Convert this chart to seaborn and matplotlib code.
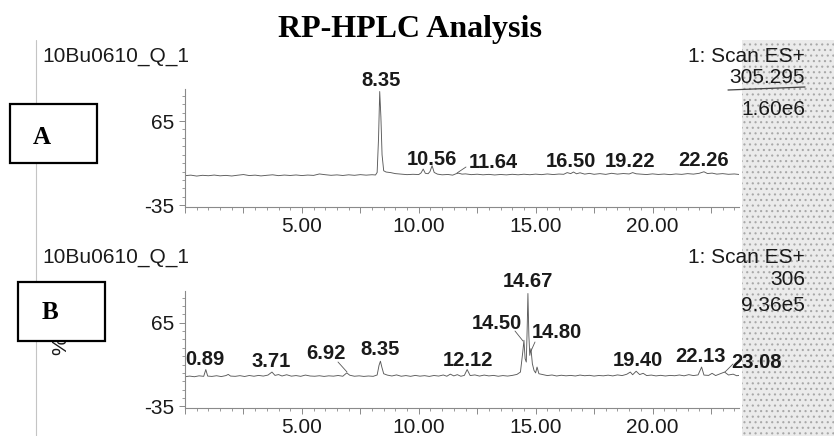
import numpy as np
import pandas as pd
import matplotlib
matplotlib.use("Agg")
import matplotlib.pyplot as plt
from matplotlib.patches import Rectangle
from matplotlib.lines import Line2D
from matplotlib.ticker import FixedLocator, MultipleLocator, FuncFormatter
import seaborn as sns

# ---------------- data ----------------
title = "RP-HPLC Analysis"
sample_name = "10Bu0610_Q_1"
scan_mode = "1: Scan ES+"

a_mass, a_tic = "305.295", "1.60e6"
b_mass, b_tic = "306", "9.36e5"

a_rt = [0.00, 0.25, 0.50, 0.75, 1.00, 1.25, 1.50, 1.75, 2.00, 2.25, 2.50, 2.75,
        3.00, 3.25, 3.50, 3.75, 4.00, 4.25, 4.50, 4.75, 5.00, 5.25, 5.50, 5.75,
        6.00, 6.25, 6.50, 6.75, 7.00, 7.25, 7.50, 7.75, 8.00, 8.15, 8.22, 8.28,
        8.33, 8.38, 8.43, 8.50, 8.60, 8.80, 9.00, 9.25, 9.50, 9.75, 10.00, 10.10,
        10.19, 10.28, 10.40, 10.48, 10.57, 10.66, 10.80, 11.00, 11.25, 11.45, 11.60,
        11.70, 11.85, 12.00, 12.25, 12.50, 12.75, 13.00, 13.25, 13.50, 13.75, 14.00,
        14.25, 14.50, 14.75, 15.00, 15.25, 15.50, 15.75, 16.00, 16.20, 16.35, 16.50,
        16.62, 16.75, 16.90, 17.10, 17.30, 17.50, 17.75, 18.00, 18.25, 18.50, 18.75,
        19.00, 19.15, 19.30, 19.50, 19.75, 20.00, 20.25, 20.50, 20.75, 21.00, 21.25,
        21.50, 21.75, 22.00, 22.20, 22.35, 22.55, 22.75, 23.00, 23.25, 23.50, 23.70]
a_int = [0.2, 0.8, -0.3, 0.6, 0.1, 0.9, 0.0, 0.5, -0.2, 0.7, 1.5, 0.3,
         0.8, -0.1, 0.6, 1.2, 0.2, 0.9, 0.4, 1.0, 0.3, 0.9, 0.5, 2.2,
         1.3, 0.6, 1.1, 0.4, 1.2, 0.6, 1.4, 0.8, 1.3, 1.0, 4.0, 45.0,
         100.0, 70.0, 25.0, 6.0, 4.5, 3.8, 2.6, 2.0, 1.4, 1.8, 1.5, 3.5,
         8.0, 3.0, 2.5, 5.0, 12.0, 4.0, 2.0, 1.2, 1.6, 0.8, 2.5,
         3.2, 2.0, 2.3, 1.4, 1.9, 1.2, 1.7, 1.0, 1.6, 1.1, 1.8,
         1.2, 1.9, 1.3, 2.0, 1.4, 2.2, 1.5, 2.1, 1.8, 3.8, 2.6,
         4.5, 2.4, 3.6, 2.0, 2.9, 1.8, 2.6, 1.7, 3.0, 2.0, 2.7,
         2.2, 3.8, 2.4, 2.0, 1.5, 2.3, 1.6, 2.1, 1.4, 2.2, 1.7,
         2.6, 2.0, 3.0, 4.8, 2.7, 3.2, 2.0, 2.6, 1.8, 2.2, 1.6]

b_rt = [0.00, 0.20, 0.40, 0.60, 0.80, 0.89, 0.97, 1.15, 1.35, 1.55, 1.75, 1.85,
        1.95, 2.15, 2.35, 2.55, 2.75, 2.95, 3.15, 3.35, 3.55, 3.72, 3.85, 4.00,
        4.15, 4.35, 4.55, 4.75, 4.95, 5.15, 5.35, 5.55, 5.75, 5.95, 6.15, 6.35,
        6.55, 6.75, 6.92, 7.05, 7.25, 7.45, 7.65, 7.85, 8.05, 8.22, 8.30, 8.36,
        8.42, 8.50, 8.65, 8.85, 9.05, 9.25, 9.45, 9.65, 9.85, 10.05, 10.25, 10.45,
        10.65, 10.85, 11.05, 11.20, 11.35, 11.50, 11.65, 11.80, 11.95, 12.07, 12.20,
        12.40, 12.60, 12.80, 13.00, 13.20, 13.40, 13.60, 13.80, 14.00, 14.20, 14.35,
        14.45, 14.50, 14.55, 14.60, 14.64, 14.67, 14.71, 14.75, 14.80, 14.86, 14.93,
        15.00, 15.06, 15.14, 15.30, 15.50, 15.70, 15.90, 16.10, 16.30, 16.50, 16.70,
        16.90, 17.10, 17.30, 17.50, 17.70, 17.90, 18.10, 18.30, 18.50, 18.70, 18.90,
        19.05, 19.15, 19.30, 19.45, 19.60, 19.75, 19.95, 20.15, 20.35, 20.55, 20.75,
        20.95, 21.15, 21.35, 21.55, 21.75, 21.95, 22.10, 22.20, 22.40, 22.55, 22.70,
        22.90, 23.08, 23.25, 23.45, 23.60, 23.70]
b_int = [0.5, 1.2, 0.4, 1.5, 0.9, 9.0, 1.2, 0.8, 1.6, 0.6, 1.8, 3.2,
         1.2, 0.9, 1.7, 0.7, 1.9, 1.0, 2.0, 1.2, 2.4, 6.0, 2.0, 3.0,
         1.3, 2.8, 1.1, 1.8, 0.9, 2.4, 1.3, 1.0, 1.6, 0.8, 1.5, 1.1,
         1.9, 1.0, 5.0, 2.2, 1.0, 1.5, 0.8, 1.3, 0.9, 2.5, 14.0, 19.0,
         12.0, 4.0, 2.4, 1.3, 2.6, 1.0, 1.8, 0.9, 2.0, 1.1, 1.7, 0.8,
         1.9, 1.2, 2.5, 1.0, 3.5, 1.4, 2.9, 1.0, 2.0, 9.0, 1.8,
         2.6, 1.2, 2.4, 1.4, 2.0, 1.0, 1.8, 1.2, 2.0, 3.2, 6.0,
         30.0, 44.0, 22.0, 18.0, 60.0, 100.0, 50.0, 26.0, 34.0, 16.0, 8.0,
         5.0, 12.0, 4.0, 3.0, 1.8, 2.5, 1.3, 2.2, 1.5, 2.0, 1.3,
         2.4, 1.6, 2.1, 1.2, 1.9, 1.5, 2.3, 1.4, 2.6, 1.8, 3.4,
         6.0, 2.8, 7.0, 3.0, 4.5, 1.8, 2.4, 1.4, 2.1, 1.3, 2.0,
         1.6, 2.5, 1.5, 2.9, 1.8, 2.6, 12.0, 2.4, 2.0, 4.5, 1.8,
         4.0, 6.0, 2.5, 3.5, 1.6, 2.0]

a_peaks = ["8.35", "10.56", "11.64", "16.50", "19.22", "22.26"]
a_peak_rt = [8.35, 10.56, 11.64, 16.50, 19.22, 22.26]
b_peaks = ["0.89", "3.71", "6.92", "8.35", "12.12", "14.50", "14.67", "14.80",
           "19.40", "22.13", "23.08"]
b_peak_rt = [0.89, 3.71, 6.92, 8.35, 12.12, 14.50, 14.67, 14.80, 19.40, 22.13, 23.08]

y_tick_vals = [-35, 65]
x_tick_labels = ["5.00", "10.00", "15.00", "20.00"]

# ---------------- layout / style ----------------
W, H = 834, 436
sns.set_theme(style="ticks")
plt.rcParams["font.family"] = ["Liberation Sans", "DejaVu Sans"]
plt.rcParams["axes.unicode_minus"] = False
plt.rcParams["hatch.linewidth"] = 0.8

fig = plt.figure(figsize=(W / 100, H / 100), dpi=100)
fig.patch.set_facecolor("white")


def fx(px):
    return px / W


def fy(py):
    return 1 - py / H


TRACE = "#5a5a5a"
AXC = "#8a8a8a"
TXT = "#1a1a1a"

# label positions in image pixels (x centre, baseline y), and leader lines
a_label_pos = {"8.35": (381, 86), "10.56": (432, 165), "11.64": (493, 168),
               "16.50": (571, 167), "19.22": (630, 167), "22.26": (704, 166)}
a_leaders = {"11.64": ((466, 167), (457, 173))}
b_label_pos = {"0.89": (205, 365), "3.71": (271, 367), "6.92": (326, 359),
               "8.35": (380, 355), "12.12": (468, 366), "14.50": (497, 329),
               "14.67": (528, 287), "14.80": (557, 338), "19.40": (638, 366),
               "22.13": (701, 362), "23.08": (757, 368)}
b_leaders = {"6.92": ((338, 362), (347, 372)), "14.50": ((515, 331), (523, 341)),
             "14.80": ((535, 342), (531, 351)), "23.08": ((733, 364), (725, 372))}


def make_panel(top_px, bottom_px, rt, inten):
    ax = fig.add_axes([fx(185), fy(bottom_px), fx(739) - fx(185),
                       (bottom_px - top_px) / H])
    df = pd.DataFrame({"rt": rt, "intensity": inten})
    sns.lineplot(data=df, x="rt", y="intensity", ax=ax, color=TRACE,
                 linewidth=0.65, estimator=None, sort=False)
    ax.set_xlim(0, 23.7)
    ax.set_ylim(-37, 103)
    ax.set_xlabel("")
    ax.set_ylabel("")
    ax.patch.set_alpha(0)
    for s in ["top", "right"]:
        ax.spines[s].set_visible(False)
    for s in ["left", "bottom"]:
        ax.spines[s].set_color(AXC)
        ax.spines[s].set_linewidth(0.8)
    ax.yaxis.set_major_locator(FixedLocator(y_tick_vals))
    ax.set_yticklabels([str(v) for v in y_tick_vals])
    ax.yaxis.set_minor_locator(FixedLocator(list(range(-35, 100, 10))))
    ax.xaxis.set_major_locator(MultipleLocator(2.5))
    lab = {5.0: x_tick_labels[0], 10.0: x_tick_labels[1],
           15.0: x_tick_labels[2], 20.0: x_tick_labels[3]}
    ax.xaxis.set_major_formatter(FuncFormatter(lambda v, p: lab.get(round(v, 2), "")))
    ax.xaxis.set_minor_locator(MultipleLocator(0.5))
    ax.tick_params(axis="both", which="major", length=4.5, width=0.7, color=AXC,
                   labelsize=15, labelcolor=TXT, direction="out")
    ax.tick_params(axis="both", which="minor", length=2.5, width=0.6, color=AXC,
                   direction="out")
    ax.tick_params(axis="x", which="major", pad=3)
    ax.tick_params(axis="y", which="major", pad=3)
    return ax


axA = make_panel(89, 207, a_rt, a_int)
axB = make_panel(291, 408, b_rt, b_int)


def peak_labels(labels, rts, pos, leaders):
    for lbl in labels:
        px, py = pos[lbl]
        fig.text(fx(px), fy(py), lbl, ha="center", va="baseline", fontsize=14.5,
                 fontweight="bold", color=TXT)
        if lbl in leaders:
            (x0, y0), (x1, y1) = leaders[lbl]
            fig.add_artist(Line2D([fx(x0), fx(x1)], [fy(y0), fy(y1)],
                                  transform=fig.transFigure, color="#555555", lw=0.6))


peak_labels(a_peaks, a_peak_rt, a_label_pos, a_leaders)
peak_labels(b_peaks, b_peak_rt, b_label_pos, b_leaders)

# scanned noisy strip on the right
fig.add_artist(Rectangle((fx(742), 0), fx(834) - fx(742), fy(40), transform=fig.transFigure,
                         facecolor="#ebebeb", edgecolor="#a8a8a8", hatch="...",
                         linewidth=0, zorder=0))

# left scanner line
fig.add_artist(Line2D([fx(36), fx(36)], [fy(40), 0], transform=fig.transFigure,
                      color="#c4c4c4", lw=0.8))

# titles / headers
fig.text(fx(410), fy(37), title, ha="center", va="baseline", fontsize=23,
         fontweight="bold", family="Liberation Serif", color="black")
for base in (62, 263):
    fig.text(fx(42), fy(base), sample_name, ha="left", va="baseline",
             fontsize=15, color=TXT)
    fig.text(fx(805), fy(base), scan_mode, ha="right", va="baseline",
             fontsize=15, color=TXT, zorder=5)
fig.text(fx(805), fy(83), a_mass, ha="right", va="baseline", fontsize=15, color=TXT, zorder=5)
fig.text(fx(805), fy(115), a_tic, ha="right", va="baseline", fontsize=15, color=TXT, zorder=5)
fig.text(fx(805), fy(285), b_mass, ha="right", va="baseline", fontsize=15, color=TXT, zorder=5)
fig.text(fx(805), fy(311), b_tic, ha="right", va="baseline", fontsize=15, color=TXT, zorder=5)
fig.add_artist(Line2D([fx(728), fx(805)], [fy(90), fy(87)], transform=fig.transFigure,
                      color="#444444", lw=0.9))

# "%" axis label (partly under box B)
fig.text(fx(61), fy(346), "%", rotation=90, ha="center", va="center",
         fontsize=15, color=TXT, zorder=1)

# boxed panel letters
for (x0, y0, x1, y1, letter, cx, cy) in [(10, 104, 97, 163, "A", 42, 137),
                                         (18, 282, 105, 341, "B", 50, 312)]:
    fig.add_artist(Rectangle((fx(x0), fy(y1)), fx(x1) - fx(x0), (y1 - y0) / H,
                             transform=fig.transFigure, facecolor="white",
                             edgecolor="black", linewidth=1.6, zorder=3))
    fig.text(fx(cx), fy(cy), letter, ha="center", va="center", fontsize=18,
             fontweight="bold", family="Liberation Serif", color="black", zorder=4)

fig.savefig("out.png", dpi=100)
